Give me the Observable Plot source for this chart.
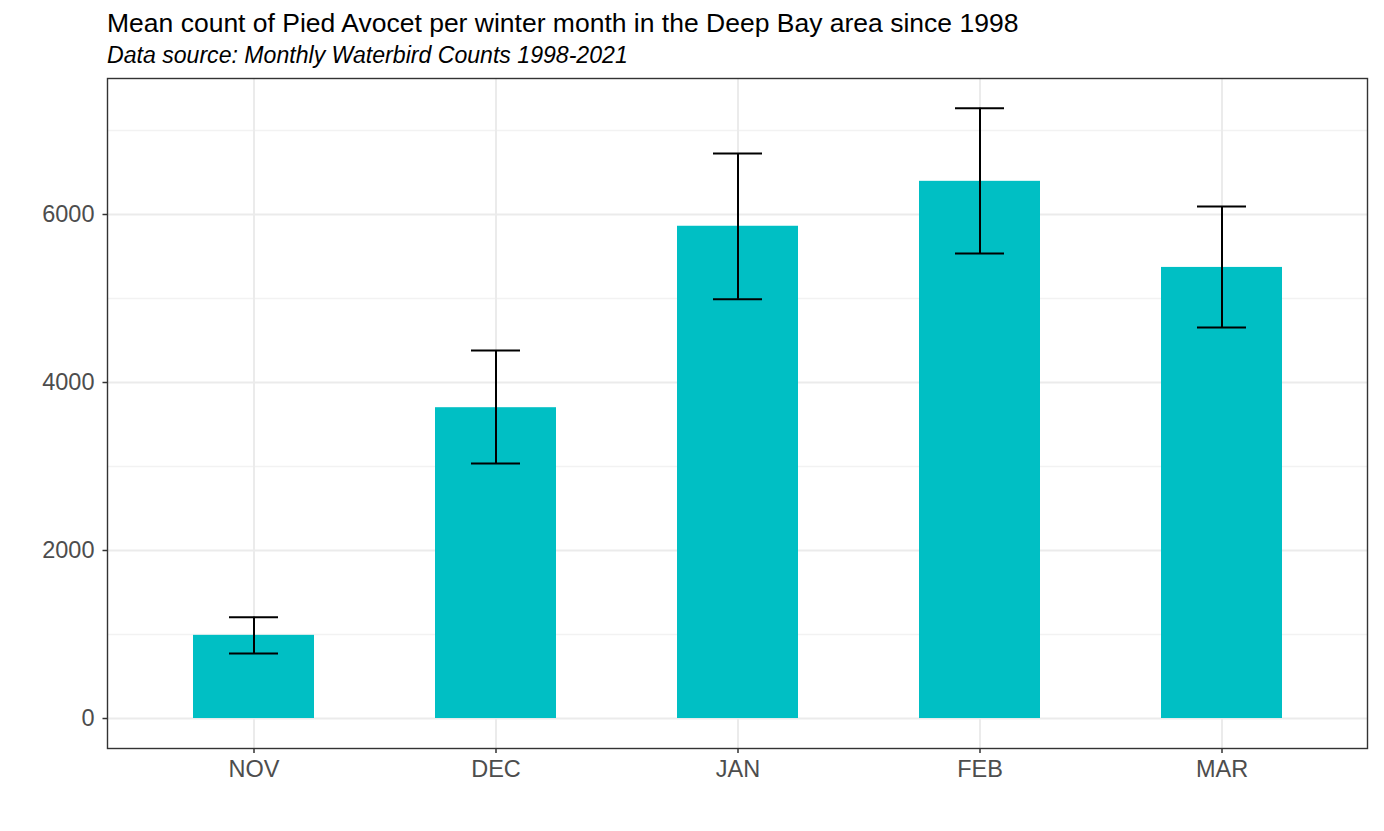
<!DOCTYPE html>
<html>
<head>
<meta charset="utf-8">
<script src="https://cdn.jsdelivr.net/npm/d3@7"></script>
<script src="https://cdn.jsdelivr.net/npm/@observablehq/plot@0.6"></script>
<style>
  html, body { margin: 0; padding: 0; background: #fff; }
  body { font-family: "Liberation Sans", Arial, sans-serif; width: 1384px; }
  #header { position: relative; height: 68px; }
  #title { position: absolute; left: 107px; top: 10px; font-size: 26.5px; line-height: 1; color: #000; white-space: nowrap; }
  #subtitle { position: absolute; left: 107px; top: 44px; font-size: 23.1px; line-height: 1; font-style: italic; color: #000; white-space: nowrap; }
</style>
</head>
<body>
<div id="header">
  <div id="title">Mean count of Pied Avocet per winter month in the Deep Bay area since 1998</div>
  <div id="subtitle">Data source: Monthly Waterbird Counts 1998-2021</div>
</div>
<div id="chart"></div>
<script>
const months = ["NOV", "DEC", "JAN", "FEB", "MAR"];
const means = [990, 3700, 5860, 6395, 5370];
const lows = [775, 3035, 4990, 5535, 4655];
const highs = [1205, 4380, 6725, 7265, 6095];
const yMajor = [0, 2000, 4000, 6000];
const yMinor = [1000, 3000, 5000, 7000];

const data = months.map((m, i) => ({month: m, mean: means[i], lo: lows[i], hi: highs[i]}));

const chart = Plot.plot({
  width: 1384,
  height: 740,
  marginLeft: 107,
  marginRight: 17,
  marginTop: 10,
  marginBottom: 60,
  style: {fontFamily: '"Liberation Sans", Arial, sans-serif', background: "#fff"},
  x: {type: "band", domain: months, paddingInner: 0.5, paddingOuter: 0.35, align: 0.5},
  y: {domain: [-357, 7619], nice: false},
  marks: [
    Plot.ruleY(yMinor, {stroke: "#f2f2f2", strokeWidth: 1.3}),
    Plot.ruleY(yMajor, {stroke: "#ebebeb", strokeWidth: 2}),
    Plot.gridX({stroke: "#ebebeb", strokeOpacity: 1, strokeWidth: 2}),
    Plot.barY(data, {x: "month", y: "mean", fill: "#00BFC4"}),
    Plot.ruleX(data, {x: "month", y1: "lo", y2: "hi", stroke: "#000", strokeWidth: 2}),
    Plot.tickY(data, {x: "month", y: "hi", stroke: "#000", strokeWidth: 2, inset: 36}),
    Plot.tickY(data, {x: "month", y: "lo", stroke: "#000", strokeWidth: 2, inset: 36}),
    Plot.axisY({ticks: yMajor, tickFormat: d => String(d), tickSize: 4.5, tickPadding: 8.5, fontSize: 23.5, fill: "#4d4d4d", stroke: "#333", strokeWidth: 1.5, label: null}),
    Plot.axisX({tickSize: 5, tickPadding: 7, fontSize: 23.5, fill: "#4d4d4d", stroke: "#333", strokeWidth: 1.5, label: null}),
    Plot.frame({stroke: "#333", strokeWidth: 1.4})
  ]
});
document.getElementById("chart").appendChild(chart);
</script>
</body>
</html>
